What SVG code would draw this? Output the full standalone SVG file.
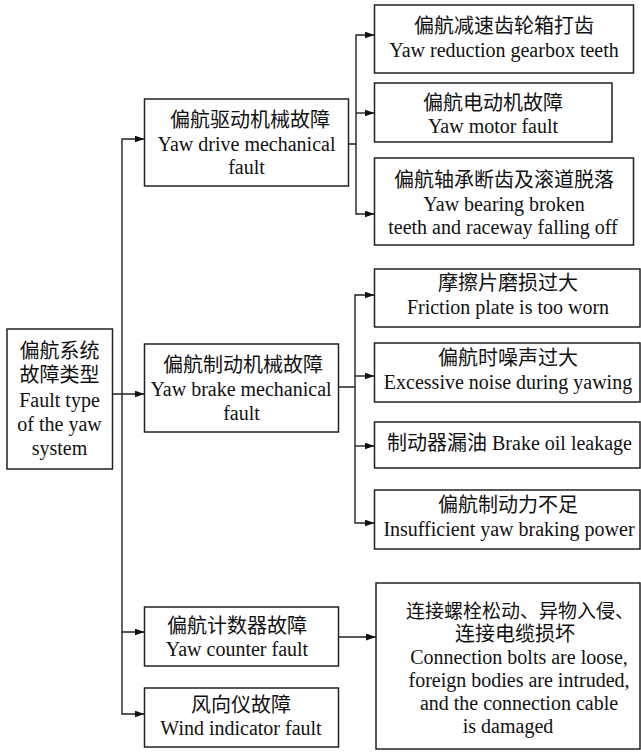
<svg xmlns="http://www.w3.org/2000/svg" width="641" height="752" viewBox="0 0 641 752">
<style>
.box{fill:#fff;stroke:#222;stroke-width:1.5}
.t{font-family:"Liberation Serif","Noto Sans CJK SC",serif;font-size:20px;fill:#111;text-anchor:middle}
.c{fill:none;stroke:#222;stroke-width:1.4;marker-end:url(#ah)}
</style>
<defs>
<marker id="ah" markerWidth="10" markerHeight="7" refX="10" refY="3.5" orient="auto" markerUnits="userSpaceOnUse">
<path d="M0,0 L10,3.5 L0,7 z" fill="#111"/>
</marker>
</defs>
<rect width="641" height="752" fill="#fff"/>
<g id="connectors">
<path class="c" d="M122,394 V139 H144.5"/>
<path class="c" d="M112.5,394 H144.5"/>
<path class="c" d="M122,394 V632 H144.5"/>
<path class="c" d="M122,632 V714 H144.5"/>
<path class="c" d="M348.5,144 H356 V35 H374.5"/>
<path class="c" d="M356,113 H374.5"/>
<path class="c" d="M356,144 V214 H374.5"/>
<path class="c" d="M338.5,387 H355 V295 H374.5"/>
<path class="c" d="M355,376 H374.5"/>
<path class="c" d="M355,387 V523 H374.5"/>
<path class="c" d="M355,446 H374.5"/>
<path class="c" d="M338.5,637 H376"/>
</g>
<g id="root">
<rect class="box" x="7" y="329" width="105.5" height="140"/>
<text class="t" x="59.5" y="358">偏航系统</text>
<text class="t" x="59.5" y="382">故障类型</text>
<text class="t" x="59.5" y="407">Fault type</text>
<text class="t" x="59.5" y="431">of the yaw</text>
<text class="t" x="59.5" y="455">system</text>
</g>
<g id="drive">
<rect class="box" x="144.5" y="99" width="204" height="87"/>
<text class="t" x="250" y="127">偏航驱动机械故障</text>
<text class="t" x="246.5" y="151">Yaw drive mechanical</text>
<text class="t" x="246.5" y="174">fault</text>
</g>
<g id="brake">
<rect class="box" x="144.5" y="344" width="194" height="88"/>
<text class="t" x="243" y="372">偏航制动机械故障</text>
<text class="t" x="241" y="396">Yaw brake mechanical</text>
<text class="t" x="241.5" y="420">fault</text>
</g>
<g id="counter">
<rect class="box" x="144.5" y="607" width="194" height="59"/>
<text class="t" x="237" y="633">偏航计数器故障</text>
<text class="t" x="237" y="656">Yaw counter fault</text>
</g>
<g id="wind">
<rect class="box" x="144.5" y="688" width="194" height="59"/>
<text class="t" x="241" y="712">风向仪故障</text>
<text class="t" x="241" y="735">Wind indicator fault</text>
</g>
<g id="gearbox">
<rect class="box" x="374.5" y="5" width="259" height="68"/>
<text class="t" x="504" y="33">偏航减速齿轮箱打齿</text>
<text class="t" x="504" y="57">Yaw reduction gearbox teeth</text>
</g>
<g id="motor">
<rect class="box" x="374.5" y="83" width="237.5" height="59"/>
<text class="t" x="493" y="110">偏航电动机故障</text>
<text class="t" x="493" y="133">Yaw motor fault</text>
</g>
<g id="bearing">
<rect class="box" x="374.5" y="158" width="259" height="87"/>
<text class="t" x="504" y="187">偏航轴承断齿及滚道脱落</text>
<text class="t" x="504" y="211">Yaw bearing broken</text>
<text class="t" x="503" y="234">teeth and raceway falling off</text>
</g>
<g id="friction">
<rect class="box" x="374.5" y="269" width="265.5" height="58"/>
<text class="t" x="508" y="290">摩擦片磨损过大</text>
<text class="t" x="508" y="314">Friction plate is too worn</text>
</g>
<g id="noise">
<rect class="box" x="374.5" y="343" width="265.5" height="59"/>
<text class="t" x="508" y="365">偏航时噪声过大</text>
<text class="t" x="508" y="389">Excessive noise during yawing</text>
</g>
<g id="oil">
<rect class="box" x="374.5" y="422" width="265.5" height="46"/>
<text class="t" x="509.5" y="450">制动器漏油 Brake oil leakage</text>
</g>
<g id="braking">
<rect class="box" x="374.5" y="490" width="265.5" height="59"/>
<text class="t" x="508" y="512">偏航制动力不足</text>
<text class="t" x="509" y="536">Insufficient yaw braking power</text>
</g>
<g id="connection">
<rect class="box" x="376" y="583" width="264" height="166"/>
<text class="t" x="520" y="618" style="font-size:19px">连接螺栓松动、异物入侵、</text>
<text class="t" x="515" y="641">连接电缆损坏</text>
<text class="t" x="519" y="664">Connection bolts are loose,</text>
<text class="t" x="519" y="687">foreign bodies are intruded,</text>
<text class="t" x="519" y="710">and the connection cable</text>
<text class="t" x="508" y="733">is damaged</text>
</g>
</svg>
